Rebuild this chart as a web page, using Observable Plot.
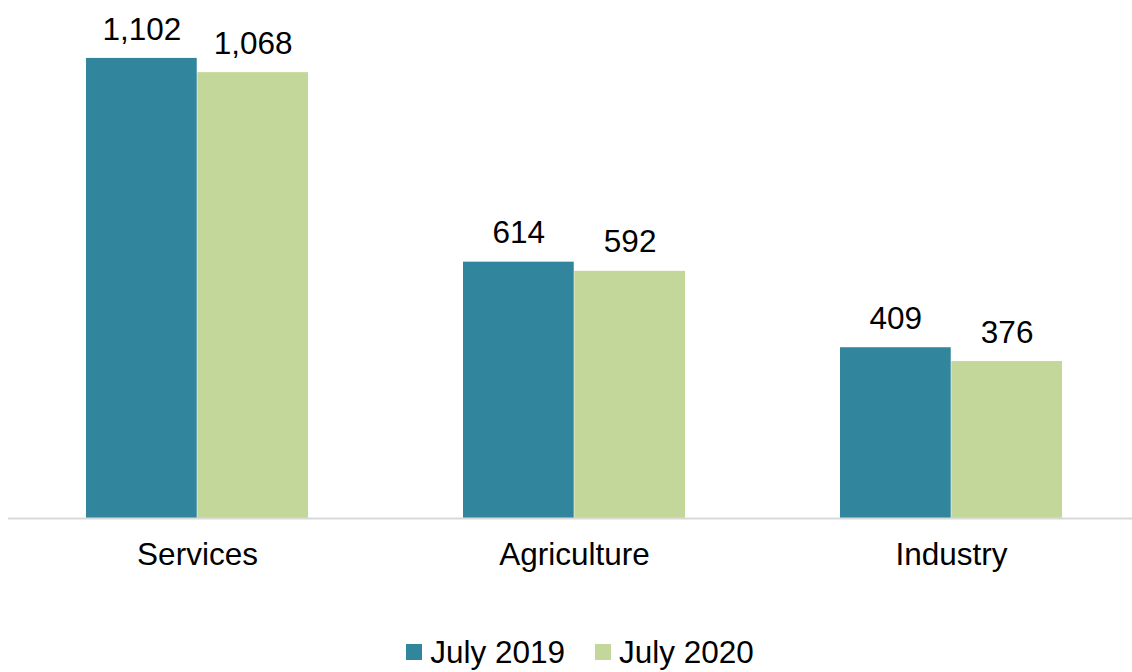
<!DOCTYPE html>
<html><head><meta charset="utf-8">
<script src="https://cdn.jsdelivr.net/npm/d3@7"></script>
<script src="https://cdn.jsdelivr.net/npm/@observablehq/plot@0.6"></script>
<style>
body{margin:0;background:#fff;font-family:"Liberation Sans",Arial,sans-serif;}
#legend{display:flex;justify-content:center;align-items:center;height:36px;font-size:31.5px;color:#000;line-height:36px;padding-left:28px;}
.sw{display:inline-block;width:16px;height:16px;margin-right:8px;}
.item{display:flex;align-items:center;margin:0 15px;}
</style></head><body>
<div id="chart"></div>
<div id="legend"></div>
<script>
const categories = ["Services", "Agriculture", "Industry"];
const series = ["July 2019", "July 2020"];
const values2019 = [1102, 614, 409];
const values2020 = [1068, 592, 376];
const colors = ["#31859c", "#c4d79b"];

const W = 1132, H = 634, mL = 8, mR = 0, mT = 17, mB = 116;
const padIn = 0.41, padOut = 0.195, align = 0.53;
const bw = d3.scaleBand().domain(categories).range([mL, W - mR]).paddingInner(padIn).paddingOuter(padOut).align(align).bandwidth();
const half = bw / 2;

const d19 = categories.map((c, i) => ({category: c, value: values2019[i]}));
const d20 = categories.map((c, i) => ({category: c, value: values2020[i]}));
const fmt = d3.format(",");
const FS = 31.5;

const plot = Plot.plot({
  width: W, height: H,
  marginLeft: mL, marginRight: mR, marginTop: mT, marginBottom: mB,
  style: {fontFamily: "'Liberation Sans', Arial, sans-serif", background: "#fff", color: "#000"},
  x: {domain: categories, type: "band", paddingInner: padIn, paddingOuter: padOut, align: align, label: null},
  y: {domain: [0, 1200], axis: null},
  marks: [
    Plot.barY(d19, {x: "category", y: "value", fill: colors[0], insetRight: half}),
    Plot.barY(d20, {x: "category", y: "value", fill: colors[1], insetLeft: half}),
    Plot.text(d19, {x: "category", y: "value", text: d => fmt(d.value), dx: -half / 2, dy: -29, lineAnchor: "middle", fontSize: FS, fill: "#000"}),
    Plot.text(d20, {x: "category", y: "value", text: d => fmt(d.value), dx: half / 2, dy: -29, lineAnchor: "middle", fontSize: FS, fill: "#000"}),
    Plot.ruleY([0], {stroke: "#d9d9d9", strokeWidth: 2}),
    Plot.axisX({tickSize: 0, tickPadding: 24, fontSize: FS, label: null})
  ]
});
document.getElementById("chart").appendChild(plot);

const leg = document.getElementById("legend");
series.forEach((s, i) => {
  const it = document.createElement("span");
  it.className = "item";
  it.innerHTML = `<span class="sw" style="background:${colors[i]}"></span>${s}`;
  leg.appendChild(it);
});
</script>
</body></html>
